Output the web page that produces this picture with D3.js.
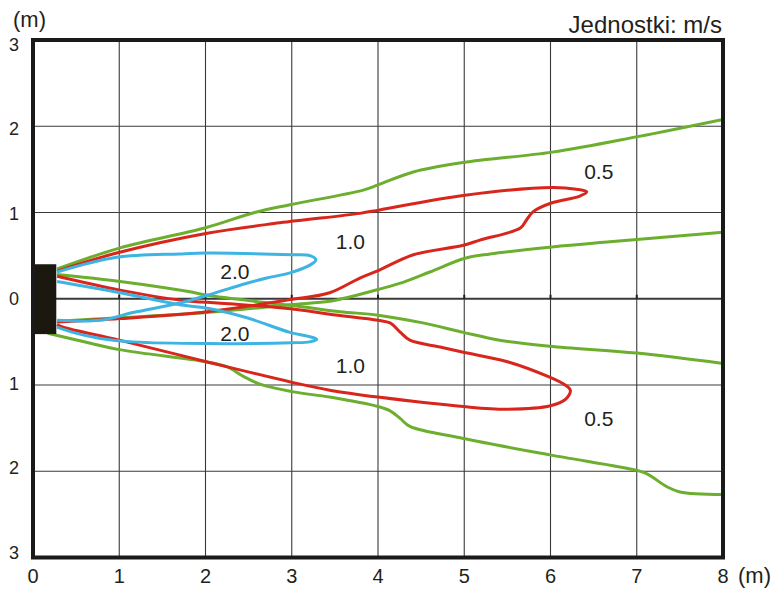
<!DOCTYPE html>
<html>
<head>
<meta charset="utf-8">
<script src="https://cdn.jsdelivr.net/npm/d3@7"></script>
<style>
  body { margin: 0; background: #fff; }
  svg text { font-family: "Liberation Sans", Arial, sans-serif; fill: #231f20; }
</style>
</head>
<body>
<svg id="chart" width="773" height="590"></svg>
<script>
// axis ticks
var xTicks = [0, 1, 2, 3, 4, 5, 6, 7, 8];
var yTicks = [3, 2, 1, 0, -1, -2, -3];

// 0.5 m/s contours (green), each split in two branches leaving the plot on the right
var c05UpOuter = [[0.28,0.345],[1.01,0.59],[1.99,0.82],[2.57,1.0],[2.98,1.09],[3.83,1.26],[4.0,1.32],
  [4.41,1.47],[4.99,1.58],[6.02,1.70],[7.01,1.88],[8.0,2.08]];
var c05UpInner = [[0.28,-0.26],[1.01,-0.22],[2.02,-0.16],[2.98,-0.07],[3.44,-0.03],[3.67,0.02],[4.01,0.11],
  [4.29,0.19],[4.60,0.31],[5.01,0.47],[5.30,0.52],[6.02,0.60],[6.69,0.66],[8.0,0.77]];
var c05LowInner = [[0.28,0.28],[1.01,0.20],[1.82,0.08],[2.02,0.04],[3.10,-0.09],[3.56,-0.15],[4.0,-0.19],
  [4.52,-0.28],[4.99,-0.39],[5.41,-0.48],[5.99,-0.55],[7.0,-0.63],[8.0,-0.75]];
var c05LowOuter = [[0.17,-0.40],[0.43,-0.46],[1.0,-0.59],[2.0,-0.73],[2.25,-0.79],[2.44,-0.90],[2.63,-0.99],
  [3.02,-1.08],[3.44,-1.14],[4.0,-1.25],[4.14,-1.30],[4.26,-1.39],[4.37,-1.48],[4.99,-1.62],[5.99,-1.81],
  [7.0,-1.99],[7.12,-2.03],[7.35,-2.18],[7.5,-2.24],[8.0,-2.27]];

// 1.0 m/s contours (red)
var c10Up = [[0.28,0.32],[0.97,0.53],[2.02,0.76],[2.86,0.88],[3.79,0.99],[4.02,1.03],[5.01,1.20],[6.02,1.29],
  [6.30,1.27],[6.42,1.24],[6.34,1.19],[6.01,1.11],[5.80,1.01],[5.72,0.91],[5.65,0.82],[5.18,0.68],[4.99,0.62],
  [4.41,0.51],[4.01,0.33],[3.79,0.24],[3.44,0.07],[2.98,-0.01],[2.02,-0.15],[1.01,-0.23],[0.28,-0.27]];
var c10Low = [[0.28,0.26],[1.01,0.10],[1.82,-0.03],[2.02,-0.04],[3.10,-0.13],[3.44,-0.18],[4.0,-0.25],
  [4.14,-0.28],[4.26,-0.39],[4.37,-0.48],[4.72,-0.56],[4.99,-0.62],[5.50,-0.73],[5.99,-0.91],[6.17,-1.0],
  [6.23,-1.06],[6.18,-1.16],[6.0,-1.24],[5.5,-1.28],[4.99,-1.25],[4.0,-1.14],[3.44,-1.06],[3.01,-0.97],
  [2.01,-0.73],[1.0,-0.48],[0.35,-0.33],[0.28,-0.30]];

// 2.0 m/s contours (blue)
var c20Up = [[0.28,0.31],[0.97,0.48],[1.70,0.52],[2.02,0.53],[3.0,0.51],[3.21,0.50],[3.28,0.45],[3.21,0.39],
  [2.98,0.30],[2.71,0.24],[2.48,0.18],[2.02,0.04],[1.70,-0.05],[1.16,-0.16],[0.78,-0.25],[0.28,-0.25]];
var c20Low = [[0.28,0.20],[1.01,0.07],[1.70,-0.07],[2.02,-0.11],[2.48,-0.22],[2.98,-0.39],[3.21,-0.44],
  [3.29,-0.47],[3.21,-0.50],[3.0,-0.51],[2.02,-0.52],[1.16,-0.50],[0.78,-0.46],[0.46,-0.39],[0.28,-0.33]];

// outlet block
var blockX = [0, 0.27];
var blockY = [-0.41, 0.40];

// contour labels
var labelText = ["0.5", "1.0", "2.0", "2.0", "1.0", "0.5"];
var labelX = [6.56, 3.68, 2.34, 2.34, 3.68, 6.56];
var labelY = [1.47, 0.66, 0.32, -0.40, -0.77, -1.39];

var svg = d3.select("#chart");
var x = d3.scaleLinear().domain([0, 8]).range([33, 723]);
var y = d3.scaleLinear().domain([-3, 3]).range([557.5, 40]);

svg.append("defs").append("clipPath").attr("id", "plot")
  .append("rect")
  .attr("x", x(0)).attr("y", y(3))
  .attr("width", x(8) - x(0)).attr("height", y(-3) - y(3));

// grid
svg.append("g").selectAll("line").data(xTicks.slice(1, -1)).join("line")
  .attr("x1", d => x(d)).attr("x2", d => x(d))
  .attr("y1", y(3)).attr("y2", y(-3))
  .attr("stroke", "#3a3a3a").attr("stroke-width", 1.1);
svg.append("g").selectAll("line").data(yTicks.slice(1, -1)).join("line")
  .attr("x1", x(0)).attr("x2", x(8))
  .attr("y1", d => y(d)).attr("y2", d => y(d))
  .attr("stroke", "#3a3a3a").attr("stroke-width", d => d === 0 ? 2.2 : 1.1);
// little ticks on the zero line
svg.append("g").selectAll("line").data(xTicks.slice(1, -1)).join("line")
  .attr("x1", d => x(d)).attr("x2", d => x(d))
  .attr("y1", y(0)).attr("y2", y(0) - 4)
  .attr("stroke", "#222").attr("stroke-width", 2);

var line = d3.line()
  .x(d => x(d[0])).y(d => y(d[1]))
  .curve(d3.curveCatmullRom.alpha(0.5));

var curves = [
  {data: c05UpOuter, color: "#6cae2e"}, {data: c05UpInner, color: "#6cae2e"},
  {data: c05LowInner, color: "#6cae2e"}, {data: c05LowOuter, color: "#6cae2e"},
  {data: c10Up, color: "#d8261d"}, {data: c10Low, color: "#d8261d"},
  {data: c20Up, color: "#3db4e2"}, {data: c20Low, color: "#3db4e2"}
];

svg.append("g").attr("clip-path", "url(#plot)")
  .selectAll("path").data(curves).join("path")
  .attr("d", d => line(d.data))
  .attr("fill", "none")
  .attr("stroke", d => d.color)
  .attr("stroke-width", 3)
  .attr("stroke-linejoin", "round");

// outlet
svg.append("rect")
  .attr("x", x(blockX[0])).attr("y", y(blockY[1]))
  .attr("width", x(blockX[1]) - x(blockX[0]))
  .attr("height", y(blockY[0]) - y(blockY[1]))
  .attr("fill", "#1b1810");

// frame
svg.append("rect")
  .attr("x", x(0)).attr("y", y(3))
  .attr("width", x(8) - x(0)).attr("height", y(-3) - y(3))
  .attr("fill", "none").attr("stroke", "#1a1a1a").attr("stroke-width", 4);

// contour labels
svg.append("g").selectAll("text").data(labelText).join("text")
  .attr("x", (d, i) => x(labelX[i])).attr("y", (d, i) => y(labelY[i]))
  .attr("text-anchor", "middle").attr("dominant-baseline", "central")
  .style("font-size", "21px")
  .text(d => d);

// axis labels
svg.append("g").selectAll("text").data(yTicks).join("text")
  .attr("x", 14).attr("y", d => y(d) + d * 1.5)
  .attr("text-anchor", "middle").attr("dominant-baseline", "central")
  .style("font-size", "18px")
  .text(d => Math.abs(d));
svg.append("g").selectAll("text").data(xTicks).join("text")
  .attr("x", d => x(d)).attr("y", 583)
  .attr("text-anchor", "middle")
  .style("font-size", "20px")
  .text(d => d);

svg.append("text").attr("x", 13).attr("y", 27).style("font-size", "22px").text("(m)");
svg.append("text").attr("x", 738).attr("y", 583).style("font-size", "22px").text("(m)");
svg.append("text").attr("x", 722).attr("y", 33).attr("text-anchor", "end")
  .style("font-size", "24px").text("Jednostki: m/s");
</script>
</body>
</html>
